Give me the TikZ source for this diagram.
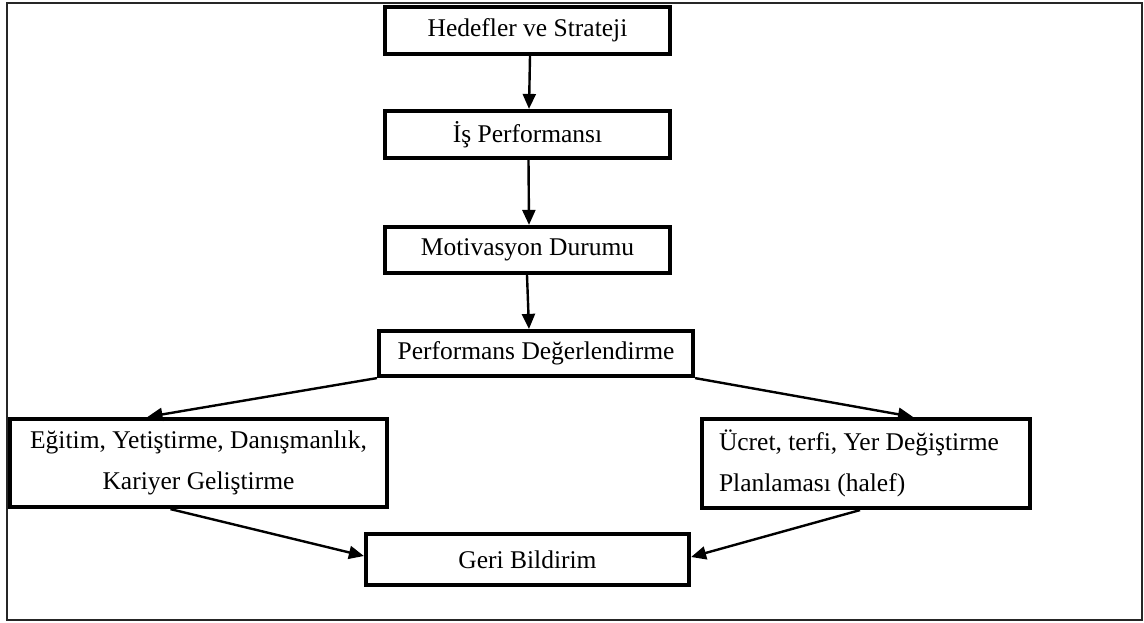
\documentclass[tikz,border=0pt]{standalone}
\usepackage{fontspec}
\setmainfont{Liberation Serif}
\usetikzlibrary{arrows.meta}
\begin{document}
\begin{tikzpicture}[x=1pt,y=-1pt,
  flowbox/.style={draw=black, line width=4.2pt, fill=white, inner sep=0pt,
    font=\fontsize{25.5}{41}\selectfont, align=center},
  link/.style={line width=2.4pt, -{Triangle[length=15pt,width=13pt]}}]
\useasboundingbox (0,0) rectangle (1144,622);
\draw[line width=2.4pt, draw=black!85] (7,3) rectangle (1142,620);

\node[flowbox, minimum width=285, minimum height=47] (h) at (527.5,30.5) {Hedefler ve Strateji};
\node[flowbox, minimum width=285, minimum height=47] (i) at (527.5,134.5) {İş Performansı};
\node[flowbox, minimum width=285, minimum height=46] (m) at (527.5,250) {Motivasyon Durumu};
\node[flowbox, minimum width=314, minimum height=45] (p) at (536,353.5) {Performans Değerlendirme};
\node[flowbox, minimum width=377, minimum height=88] (e) at (198.5,463) {Eğitim, Yetiştirme, Danışmanlık,\\Kariyer Geliştirme};
\node[flowbox, minimum width=328, minimum height=89, align=flush left, text width=294, inner xsep=17] (u) at (866,463.5) {Ücret, terfi, Yer Değiştirme\\Planlaması (halef)};
\node[flowbox, minimum width=323, minimum height=51] (g) at (527.5,559.5) {Geri Bildirim};

\draw[link] ([xshift=2.5]h.south) -- ([xshift=1.5]i.north);
\draw[link] ([xshift=1]i.south) -- ([xshift=1.5]m.north);
\draw[link] ([xshift=-0.5]m.south) -- ([xshift=-7]p.north);
\draw[link] (p.south west) -- ([xshift=-51]e.north);
\draw[link] (p.south east) -- ([xshift=47]u.north);
\draw[link] ([xshift=-28]e.south) -- ([yshift=3.5]g.west);
\draw[link] ([xshift=-6]u.south) -- ([yshift=2.5]g.east);
\end{tikzpicture}
\end{document}
